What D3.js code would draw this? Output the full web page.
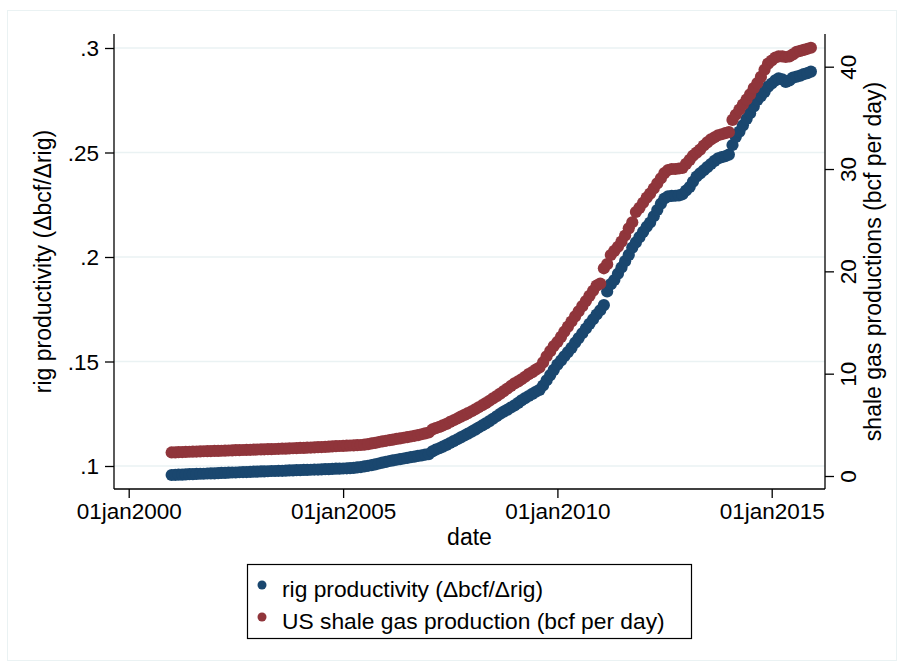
<!DOCTYPE html>
<html>
<head>
<meta charset="utf-8">
<script src="https://cdn.jsdelivr.net/npm/d3@7"></script>
<style>
  html, body { margin: 0; padding: 0; background: #ffffff; }
  svg { display: block; }
  text { font-family: "Liberation Sans", Arial, Helvetica, sans-serif; fill: #000; }
</style>
</head>
<body>
<svg id="chart" width="904" height="667"></svg>
<script>
// ---------------- DATA (monthly, Jan 2001 .. Dec 2015) ----------------
const firstMonth = "2001-01";
const leftTicks = [0.1, 0.15, 0.2, 0.25, 0.3];
const leftTickLabels = [".1", ".15", ".2", ".25", ".3"];
const rightTicks = [0, 10, 20, 30, 40];
const rightTickLabels = ["0", "10", "20", "30", "40"];
const xTickDates = ["2000-01-01", "2005-01-01", "2010-01-01", "2015-01-01"];
const xTickLabels = ["01jan2000", "01jan2005", "01jan2010", "01jan2015"];
const seriesNames = ["rig productivity (\u0394bcf/\u0394rig)", "US shale gas production (bcf per day)"];

// rig productivity (left axis)
const rigProductivity = [
  0.0957, 0.0958, 0.0959, 0.0959, 0.0960, 0.0961, 0.0961, 0.0962, 0.0963, 0.0963, 0.0964, 0.0965,
  0.0965, 0.0966, 0.0967, 0.0967, 0.0968, 0.0969, 0.0969, 0.0970, 0.0971, 0.0971, 0.0972, 0.0973,
  0.0973, 0.0974, 0.0974, 0.0975, 0.0976, 0.0976, 0.0977, 0.0977, 0.0978, 0.0979, 0.0979, 0.0980,
  0.0980, 0.0981, 0.0981, 0.0982, 0.0983, 0.0983, 0.0984, 0.0985, 0.0985, 0.0986, 0.0987, 0.0987,
  0.0988, 0.0989, 0.0990, 0.0991, 0.0993, 0.0995, 0.0998, 0.1001, 0.1004, 0.1008, 0.1012, 0.1016,
  0.1020, 0.1024, 0.1027, 0.1030, 0.1033, 0.1036, 0.1039, 0.1042, 0.1045, 0.1048, 0.1051, 0.1054,
  0.1057, 0.1070, 0.1078, 0.1085, 0.1093, 0.1101, 0.1110, 0.1119, 0.1128, 0.1137, 0.1146, 0.1155,
  0.1164, 0.1174, 0.1184, 0.1194, 0.1204, 0.1215, 0.1226, 0.1238, 0.1250, 0.1260, 0.1270, 0.1280,
  0.1290, 0.1302, 0.1314, 0.1325, 0.1335, 0.1345, 0.1355, 0.1364, 0.1385, 0.1410, 0.1435, 0.1460,
  0.1485, 0.1505, 0.1525, 0.1545, 0.1565, 0.1590, 0.1612, 0.1635, 0.1658, 0.1680, 0.1702, 0.1725,
  0.1745, 0.1770, 0.1835, 0.1870, 0.1890, 0.1920, 0.1950, 0.1980, 0.2010, 0.2045, 0.2070, 0.2095,
  0.2120, 0.2145, 0.2165, 0.2195, 0.2225, 0.2255, 0.2280, 0.2290, 0.2292, 0.2293, 0.2295, 0.2300,
  0.2318, 0.2335, 0.2360, 0.2385, 0.2400, 0.2415, 0.2430, 0.2445, 0.2460, 0.2472, 0.2478, 0.2482,
  0.2490, 0.2536, 0.2575, 0.2600, 0.2630, 0.2660, 0.2688, 0.2720, 0.2751, 0.2770, 0.2790, 0.2815,
  0.2830, 0.2845, 0.2855, 0.2850, 0.2838, 0.2845, 0.2858, 0.2863, 0.2868, 0.2875, 0.2880, 0.2887
];

// US shale gas production, bcf per day (right axis)
const shaleGas = [
  2.30, 2.31, 2.33, 2.34, 2.35, 2.37, 2.38, 2.39, 2.40, 2.42, 2.43, 2.44,
  2.45, 2.46, 2.47, 2.48, 2.49, 2.51, 2.52, 2.53, 2.54, 2.55, 2.56, 2.58,
  2.59, 2.60, 2.61, 2.62, 2.63, 2.64, 2.66, 2.67, 2.68, 2.69, 2.71, 2.72,
  2.74, 2.75, 2.77, 2.78, 2.80, 2.82, 2.83, 2.85, 2.87, 2.89, 2.91, 2.93,
  2.95, 2.96, 2.98, 2.99, 3.01, 3.03, 3.07, 3.12, 3.18, 3.24, 3.32, 3.38,
  3.44, 3.50, 3.56, 3.62, 3.68, 3.74, 3.80, 3.86, 3.93, 4.00, 4.08, 4.16,
  4.25, 4.55, 4.68, 4.80, 4.95, 5.10, 5.28, 5.45, 5.62, 5.80, 5.97, 6.15,
  6.33, 6.52, 6.72, 6.92, 7.12, 7.35, 7.58, 7.80, 8.05, 8.30, 8.55, 8.80,
  9.05, 9.25, 9.45, 9.70, 9.95, 10.15, 10.40, 10.60, 11.10, 11.70, 12.20, 12.70,
  13.10, 13.60, 14.10, 14.60, 15.10, 15.60, 16.10, 16.60, 17.10, 17.60, 18.10, 18.60,
  18.80, 20.30, 20.70, 21.60, 22.00, 22.40, 22.90, 23.50, 24.20, 24.80, 25.80, 26.20,
  26.70, 27.20, 27.60, 28.10, 28.60, 29.10, 29.60, 29.90, 30.00, 30.00, 30.05, 30.10,
  30.50, 30.90, 31.30, 31.60, 31.90, 32.30, 32.60, 32.90, 33.10, 33.30, 33.40, 33.50,
  33.60, 34.80, 35.30, 35.80, 36.30, 36.80, 37.30, 37.90, 38.40, 39.00, 39.70, 40.30,
  40.60, 40.90, 41.00, 41.00, 40.95, 41.00, 41.20, 41.45, 41.55, 41.65, 41.75, 41.85
];

// ---------------- DRAWING ----------------
const parseMonth = d3.timeParse("%Y-%m");
const parseDay = d3.timeParse("%Y-%m-%d");
const start = parseMonth(firstMonth);
const dates = rigProductivity.map((_, i) => d3.timeMonth.offset(start, i));

const svg = d3.select("#chart");
const W = 904, H = 667;
const plot = { left: 114, right: 825, top: 34, bottom: 489 };
const navy = "#1a476f", maroon = "#90353b", gridCol = "#eaf2f3";
const FS = 22.5;

// outer frame
svg.append("rect").attr("x", 0).attr("y", 0).attr("width", W).attr("height", H).attr("fill", "#fff");
svg.append("rect").attr("x", 7.5).attr("y", 10.5).attr("width", 889).attr("height", 650)
  .attr("fill", "#fff").attr("stroke", gridCol).attr("stroke-width", 1);

const x = d3.scaleTime()
  .domain([parseDay("2000-01-01"), parseDay("2015-01-01")])
  .range([128.7, 771.7]);
const yL = d3.scaleLinear().domain([0.1, 0.3]).range([466, 48]);
const yR = d3.scaleLinear().domain([0, 40]).range([476, 66.7]);

// gridlines (left axis ticks)
svg.append("g").selectAll("line").data(leftTicks).join("line")
  .attr("x1", plot.left).attr("x2", plot.right)
  .attr("y1", d => yL(d)).attr("y2", d => yL(d))
  .attr("stroke", gridCol).attr("stroke-width", 1.5);

// markers
const r = 6.1;
svg.append("g").selectAll("circle").data(dates).join("circle")
  .attr("cx", d => x(d)).attr("cy", (d, i) => yL(rigProductivity[i]))
  .attr("r", r).attr("fill", navy);
svg.append("g").selectAll("circle").data(dates).join("circle")
  .attr("cx", d => x(d)).attr("cy", (d, i) => yR(shaleGas[i]))
  .attr("r", r).attr("fill", maroon);

// left axis
const gL = svg.append("g").attr("transform", `translate(${plot.left},0)`);
gL.call(d3.axisLeft(yL).tickValues(leftTicks).tickFormat((d, i) => leftTickLabels[i]).tickSize(9).tickPadding(6));
gL.select(".domain").attr("d", `M0,${plot.top}V${plot.bottom}`).attr("stroke", "#000").attr("stroke-width", 1.3);
gL.selectAll(".tick line").attr("stroke", "#000").attr("stroke-width", 1.3);
gL.selectAll(".tick text").attr("font-size", FS).attr("font-family", null).attr("dy", "0.35em");

// right axis
const gR = svg.append("g").attr("transform", `translate(${plot.right},0)`);
gR.call(d3.axisRight(yR).tickValues(rightTicks).tickFormat((d, i) => rightTickLabels[i]).tickSize(9));
gR.select(".domain").attr("d", `M0,${plot.top}V${plot.bottom}`).attr("stroke", "#000").attr("stroke-width", 1.3);
gR.selectAll(".tick line").attr("stroke", "#000").attr("stroke-width", 1.3);
gR.selectAll(".tick text").attr("font-size", FS).attr("font-family", null)
  .attr("x", null).attr("dy", null)
  .attr("text-anchor", "middle")
  .attr("transform", "translate(31,0) rotate(-90)");

// bottom axis
const gB = svg.append("g").attr("transform", `translate(0,${plot.bottom})`);
gB.call(d3.axisBottom(x).tickValues(xTickDates.map(parseDay)).tickFormat((d, i) => xTickLabels[i]).tickSize(9).tickPadding(6));
gB.select(".domain").attr("d", `M${plot.left},0H${plot.right}`).attr("stroke", "#000").attr("stroke-width", 1.3);
gB.selectAll(".tick line").attr("stroke", "#000").attr("stroke-width", 1.3);
gB.selectAll(".tick text").attr("font-size", FS).attr("font-family", null).attr("dy", null).attr("y", 30);

// axis titles
const midY = (plot.top + plot.bottom) / 2;
svg.append("text").attr("transform", `translate(51,${midY}) rotate(-90)`)
  .attr("text-anchor", "middle").attr("font-size", 23).text(seriesNames[0]);
svg.append("text").attr("transform", `translate(881,${midY}) rotate(-90)`)
  .attr("text-anchor", "middle").attr("font-size", 23).text("shale gas productions (bcf per day)");
svg.append("text").attr("x", (plot.left + plot.right) / 2).attr("y", 545)
  .attr("text-anchor", "middle").attr("font-size", 23).text("date");

// legend
const lg = svg.append("g");
lg.append("rect").attr("x", 247.5).attr("y", 564.5).attr("width", 444).attr("height", 74)
  .attr("fill", "#fff").attr("stroke", "#000").attr("stroke-width", 1.2);
const legendColors = [navy, maroon];
const legendY = [585, 617];
seriesNames.forEach((name, i) => {
  lg.append("circle").attr("cx", 262).attr("cy", legendY[i]).attr("r", 4.5).attr("fill", legendColors[i]);
  lg.append("text").attr("x", 282).attr("y", legendY[i] + 11.5).attr("font-size", 22.8).text(name);
});
</script>
</body>
</html>
